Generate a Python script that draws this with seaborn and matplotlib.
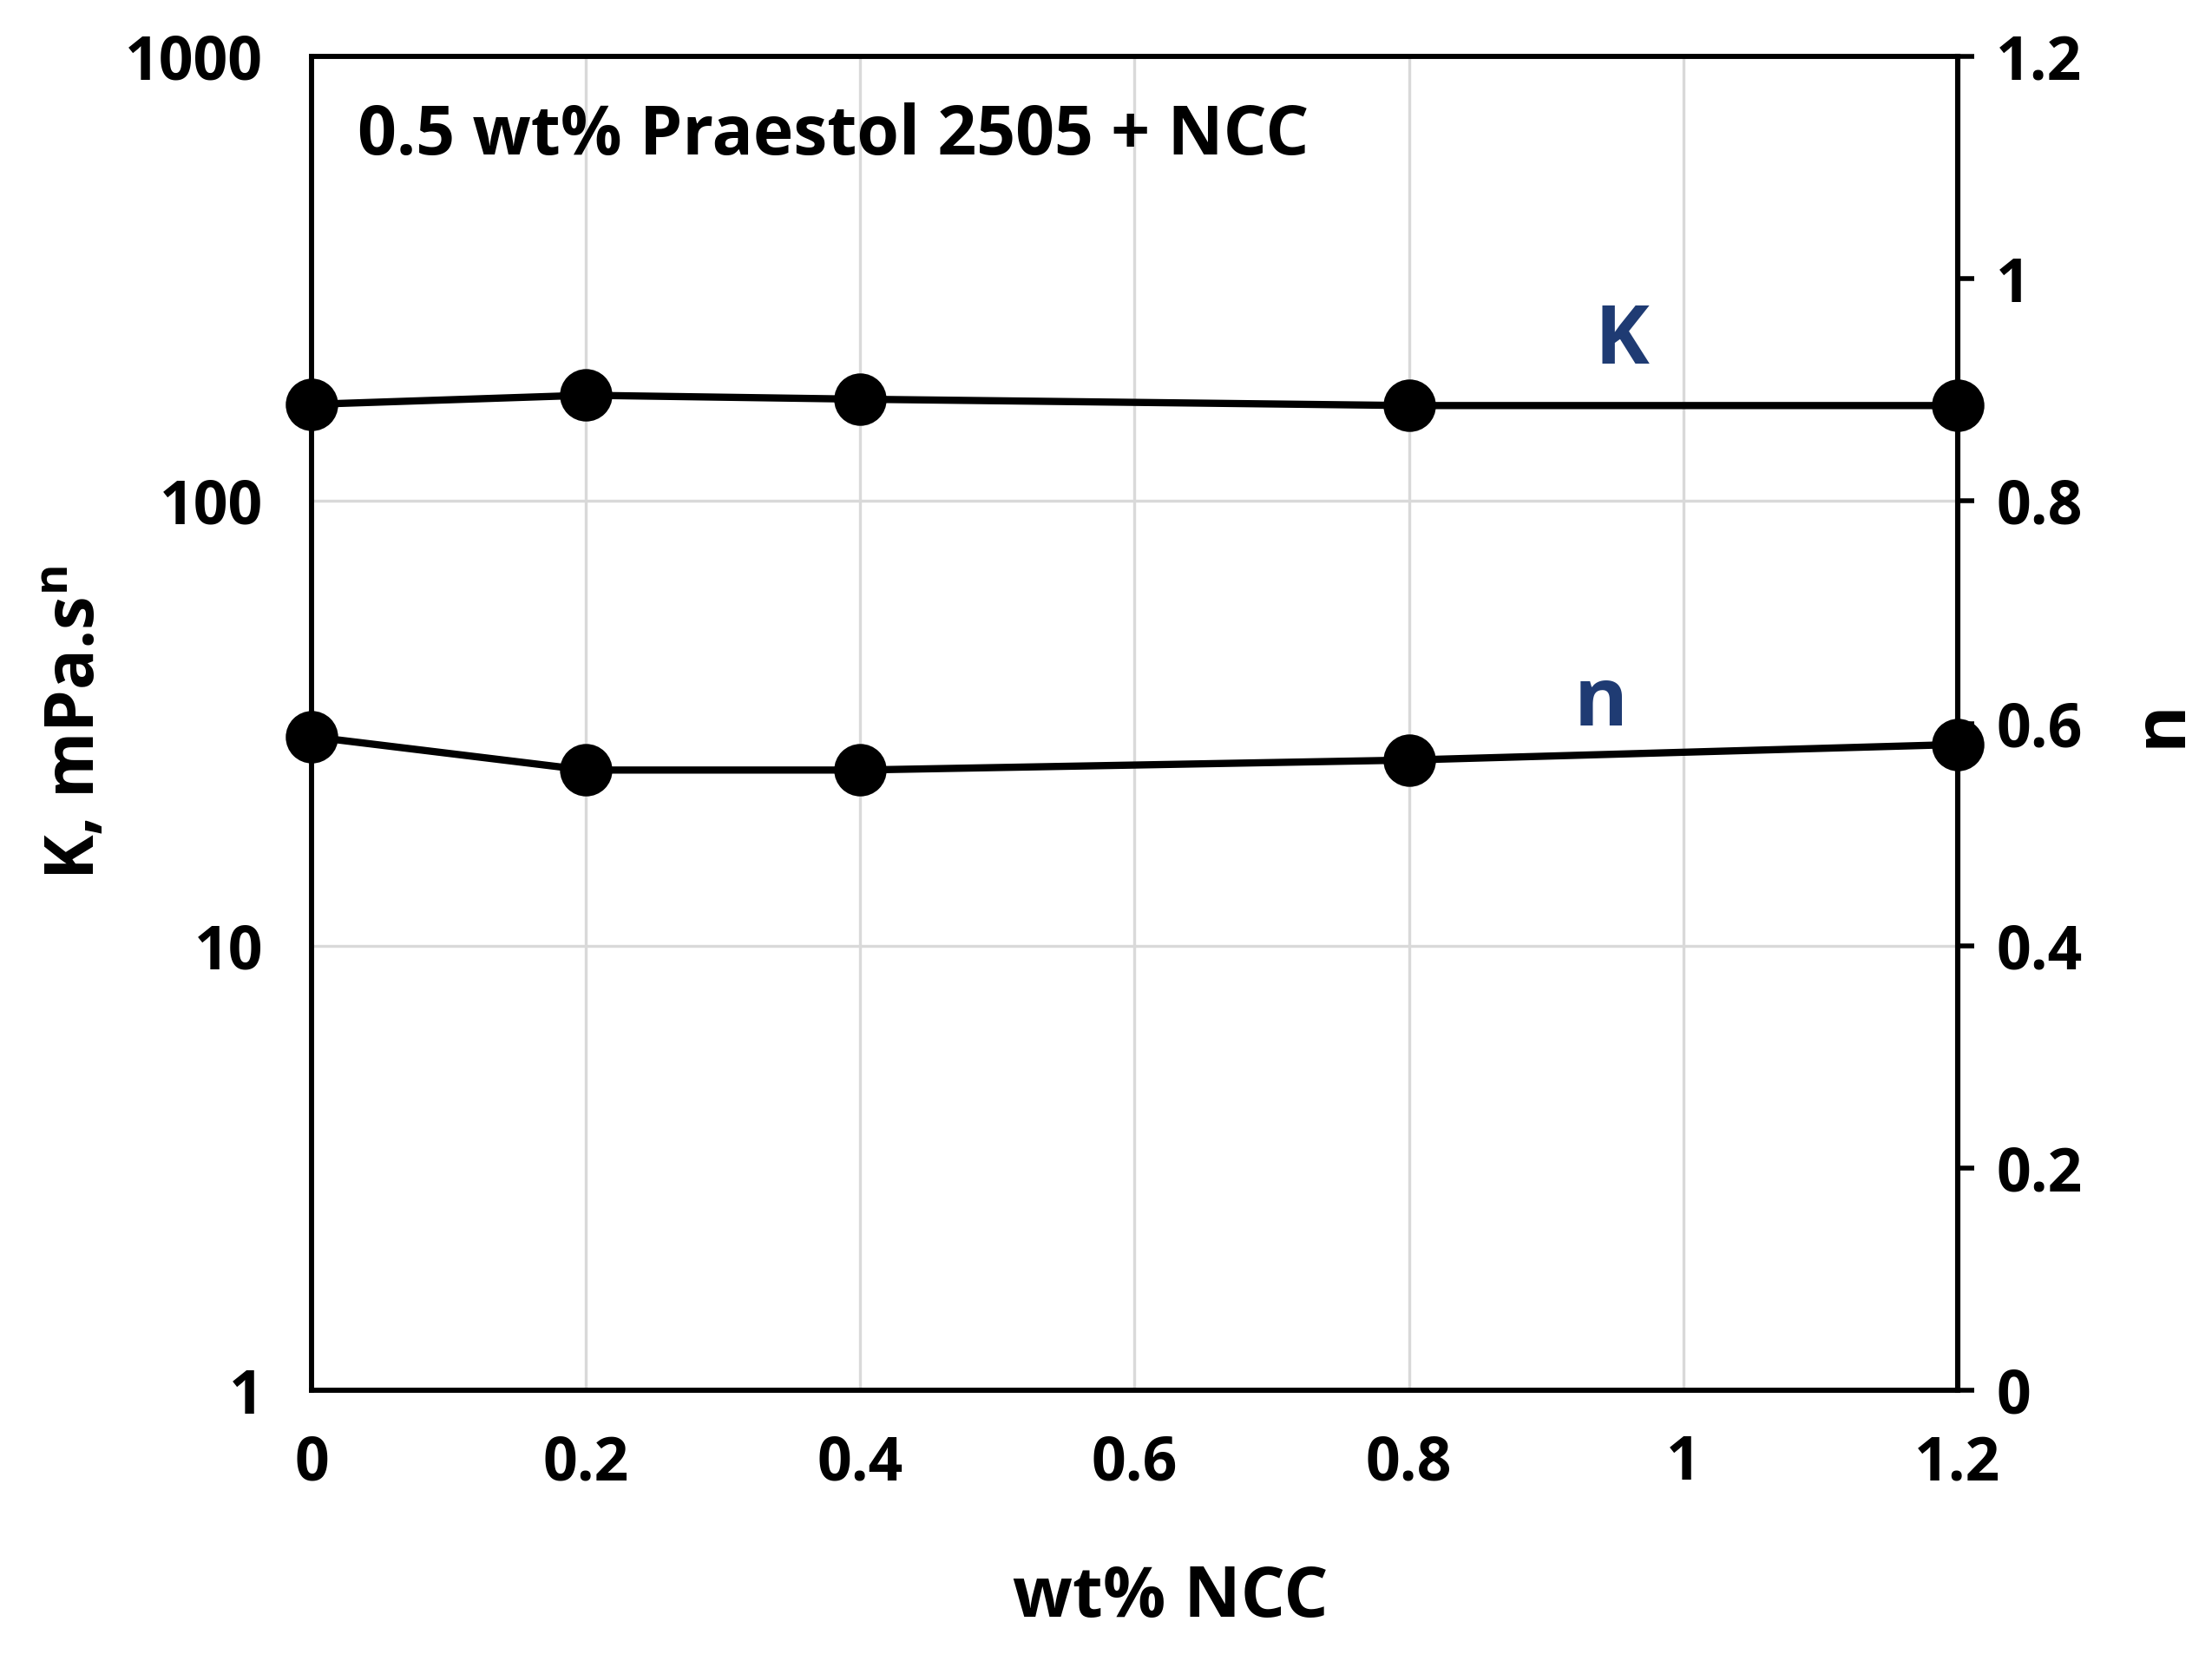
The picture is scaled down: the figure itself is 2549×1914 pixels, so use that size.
import matplotlib
matplotlib.use("Agg")
import matplotlib.pyplot as plt
import seaborn as sns
import pandas as pd
from matplotlib.ticker import FixedLocator, NullLocator

ncc = [0, 0.2, 0.4, 0.8, 1.2]
K_vals = [165, 173, 169.5, 164, 164]
n_vals = [0.588, 0.558, 0.558, 0.567, 0.581]
x_ticks = [0, 0.2, 0.4, 0.6, 0.8, 1, 1.2]
x_tick_labels = ["0", "0.2", "0.4", "0.6", "0.8", "1", "1.2"]
yl_ticks = [1, 10, 100, 1000]
yl_tick_labels = ["1", "10", "100", "1000"]
yr_ticks = [0, 0.2, 0.4, 0.6, 0.8, 1, 1.2]
yr_tick_labels = ["0", "0.2", "0.4", "0.6", "0.8", "1", "1.2"]

df = pd.DataFrame({"ncc": ncc, "K": K_vals, "n": n_vals})

sns.set_style("white")
plt.rcParams["font.family"] = ["Open Sans", "DejaVu Sans"]
plt.rcParams["font.weight"] = "bold"
plt.rcParams["mathtext.fontset"] = "custom"
plt.rcParams["mathtext.bf"] = "Open Sans:bold"
plt.rcParams["mathtext.rm"] = "Open Sans:bold"
plt.rcParams["mathtext.default"] = "bf"

fig = plt.figure(figsize=(12.745, 9.57), dpi=200)
ax = fig.add_axes([0.1408, 0.163, 0.885 - 0.1408, 0.966 - 0.163])
ax2 = ax.twinx()

ax.set_yscale("log")
ax.set_ylim(1, 1000)
ax.set_xlim(0, 1.2)
ax2.set_ylim(0, 1.2)

ax.grid(True, which="major", color="#d9d9d9", lw=1.2)
ax.set_axisbelow(True)

sns.lineplot(data=df, x="ncc", y="K", ax=ax, color="black", lw=3.0,
             marker="o", markersize=21, markeredgecolor="black", clip_on=False)
sns.lineplot(data=df, x="ncc", y="n", ax=ax2, color="black", lw=3.0,
             marker="o", markersize=21, markeredgecolor="black", clip_on=False)

ax.xaxis.set_major_locator(FixedLocator(x_ticks))
ax.set_xticklabels(x_tick_labels)
ax.yaxis.set_major_locator(FixedLocator(yl_ticks))
ax.yaxis.set_minor_locator(NullLocator())
ax.set_yticklabels(yl_tick_labels)
ax2.yaxis.set_major_locator(FixedLocator(yr_ticks))
ax2.set_yticklabels(yr_tick_labels)

ax.tick_params(axis="both", which="both", length=0, labelsize=25, colors="black")
ax.tick_params(axis="x", pad=18)
ax.tick_params(axis="y", pad=20)
ax2.tick_params(axis="y", length=7, width=2, direction="out", labelsize=25,
                pad=9, colors="black")

for a in (ax, ax2):
    for s in a.spines.values():
        s.set_color("black")
        s.set_linewidth(2)
ax2.spines["right"].set_linewidth(2.2)

ax.set_xlabel("wt% NCC", fontsize=29, fontweight="bold", color="black")
ax.xaxis.set_label_coords(0.522, -0.13)
ax.set_ylabel("K, mPa.s$^{n}$", fontsize=28, fontweight="bold", labelpad=6, color="black")
ax2.set_ylabel("n", fontsize=30, fontweight="bold", rotation=90, labelpad=18, color="black")

ax.text(0.028, 0.94, "0.5 wt% Praestol 2505 + NCC", transform=ax.transAxes,
        fontsize=28.3, fontweight="bold", ha="left", va="center", color="black")
ax.text(0.955, 228, "K", fontsize=34, fontweight="bold", color="#1f3b73",
        ha="center", va="center")
ax2.text(0.94, 0.617, "n", fontsize=34, fontweight="bold", color="#1f3b73",
         ha="center", va="center")

fig.savefig("out.png", dpi=200, facecolor="white")
